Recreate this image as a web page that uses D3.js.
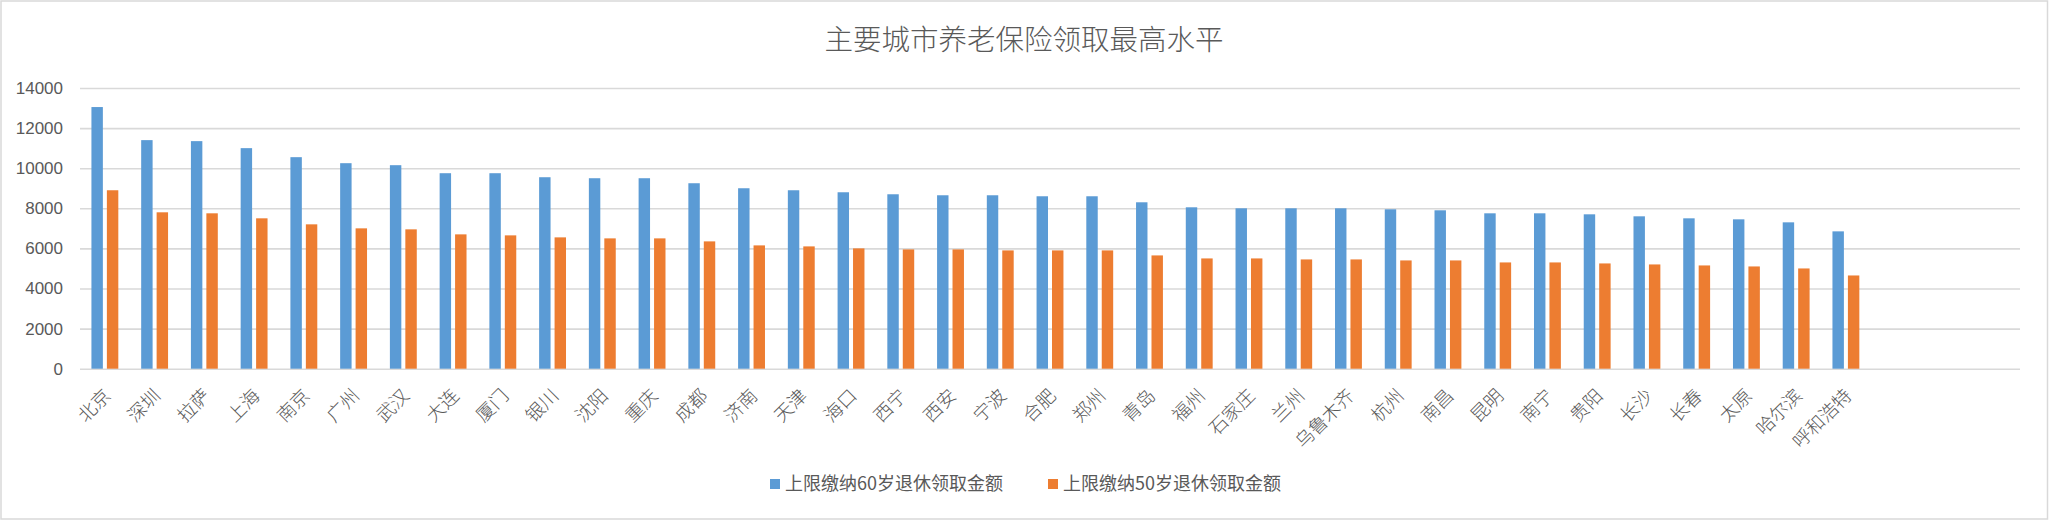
<!DOCTYPE html>
<html>
<head>
<meta charset="utf-8">
<script src="https://cdn.jsdelivr.net/npm/d3@7"></script>
<style>
  html, body { margin: 0; padding: 0; background: #fff; }
  svg { display: block; }
</style>
</head>
<body>
<svg id="chart" width="2049" height="522"></svg>
<script>
// ---------------- data ----------------
const title = "主要城市养老保险领取最高水平";
const cities = ["北京","深圳","拉萨","上海","南京","广州","武汉","大连","厦门","银川","沈阳","重庆","成都","济南","天津","海口","西宁","西安","宁波","合肥","郑州","青岛","福州","石家庄","兰州","乌鲁木齐","杭州","南昌","昆明","南宁","贵阳","长沙","长春","太原","哈尔滨","呼和浩特"];
const seriesNames = ["上限缴纳60岁退休领取金额", "上限缴纳50岁退休领取金额"];
const values60 = [13050,11400,11350,11000,10550,10250,10150,9750,9750,9550,9500,9500,9250,9000,8900,8800,8700,8650,8650,8600,8600,8300,8050,8000,8000,8000,7950,7900,7750,7750,7700,7600,7500,7450,7300,6850];
const values50 = [8900,7800,7750,7500,7200,7000,6950,6700,6650,6550,6500,6500,6350,6150,6100,6000,5950,5950,5900,5900,5900,5650,5500,5500,5450,5450,5400,5400,5300,5300,5250,5200,5150,5100,5000,4650];
const yTicks = [0,2000,4000,6000,8000,10000,12000,14000];
const emptySlots = 3; // blank category rows after the last city

// ---------------- layout ----------------
const W = 2049, H = 522;
const colors = ["#5B9BD5", "#ED7D31"];
const grid = "#D9D9D9";
const textColor = "#595959";
const cjk = "'Noto Sans CJK SC', 'Noto Sans', sans-serif";
const num = "'Liberation Sans', 'DejaVu Sans', sans-serif";

const svg = d3.select("#chart");

// outer border
svg.append("rect")
  .attr("x", 1).attr("y", 1).attr("width", W - 2.5).attr("height", 518)
  .attr("fill", "#fff").attr("stroke", grid).attr("stroke-width", 1.5);

const slots = cities.concat(d3.range(emptySlots).map(i => "__empty" + i));
const x = d3.scaleBand().domain(slots).range([80, 2020]).paddingInner(0).paddingOuter(0);
const xs = d3.scaleBand().domain(seriesNames).range([0, x.bandwidth()]).paddingInner(0.26).paddingOuter(0.74);
const y = d3.scaleLinear().domain([0, 14000]).range([368.7, 88]);

// gridlines + y labels
const yAxis = d3.axisLeft(y).tickValues(yTicks).tickSize(-(2020 - 80)).tickPadding(17).tickFormat(d3.format("d"));
const gy = svg.append("g").attr("transform", "translate(80,0)").call(yAxis);
gy.select(".domain").remove();
gy.selectAll(".tick line").attr("stroke", grid).attr("stroke-width", 1.6);
gy.selectAll(".tick text")
  .attr("fill", textColor).style("font-family", num).style("font-size", "17px");

// bars
const groups = svg.append("g").selectAll("g")
  .data(cities.map((c, i) => ({city: c, vals: [values60[i], values50[i]]})))
  .join("g")
  .attr("transform", d => `translate(${x(d.city)},0)`);

groups.selectAll("rect")
  .data(d => d.vals.map((v, k) => ({name: seriesNames[k], v, k})))
  .join("rect")
  .attr("x", d => xs(d.name))
  .attr("width", xs.bandwidth())
  .attr("y", d => y(d.v))
  .attr("height", d => y(0) - y(d.v))
  .attr("fill", d => colors[d.k]);

// x labels (rotated)
svg.append("g").selectAll("text")
  .data(cities)
  .join("text")
  .attr("transform", d => `translate(${x(d) + x.bandwidth() / 2 + 7},${397}) rotate(-45)`)
  .attr("text-anchor", "end")
  .attr("fill", textColor)
  .style("font-family", cjk)
  .style("font-size", "18.5px")
  .style("font-weight", 300)
  .text(d => d);

// title
svg.append("text")
  .attr("x", 1024).attr("y", 50)
  .attr("text-anchor", "middle")
  .attr("fill", textColor)
  .style("font-family", cjk)
  .style("font-size", "28.5px")
  .style("font-weight", 300)
  .text(title);

// legend
const legendX = [770, 1048];
const lg = svg.append("g").selectAll("g")
  .data(seriesNames)
  .join("g")
  .attr("transform", (d, i) => `translate(${legendX[i]},479)`);
lg.append("rect").attr("width", 10).attr("height", 10).attr("fill", (d, i) => colors[i]);
lg.append("text")
  .attr("x", 15).attr("y", 11)
  .attr("fill", textColor)
  .style("font-family", cjk)
  .style("font-size", "18px")
  .text(d => d);
</script>
</body>
</html>
